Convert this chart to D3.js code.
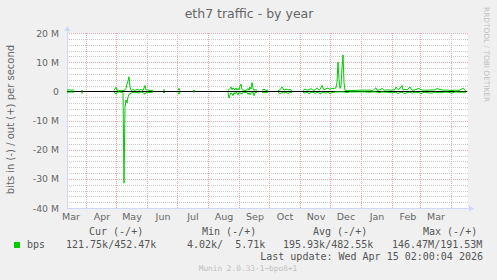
<!DOCTYPE html>
<html>
<head>
<meta charset="utf-8">
<script src="https://cdn.jsdelivr.net/npm/d3@7"></script>
<style>
  body { margin: 0; background: #f0f0f0; }
  svg { display: block; }
</style>
</head>
<body>
<div id="chart"></div>
<script>
const width = 497
const height = 280
const plot = { left: 67, right: 467, top: 33, bottom: 208 }

// sample dates (daily rrd values); null marks a gap
const sampleDates = [
  "2025-03-13","2025-03-15","2025-03-17","2025-03-19","2025-03-20","2025-03-24",
  "2025-03-27","2025-03-29","2025-04-10",
  "2025-04-29","2025-05-01","2025-05-02","2025-05-04","2025-05-06","2025-05-08","2025-05-09",
  "2025-05-10","2025-05-11","2025-05-12","2025-05-13","2025-05-14","2025-05-15","2025-05-16",
  "2025-05-18","2025-05-20","2025-05-22","2025-05-24","2025-05-26","2025-05-28","2025-05-30",
  "2025-05-31","2025-06-02","2025-06-04","2025-06-06","2025-06-07","2025-06-12",
  "2025-06-17","2025-06-19","2025-06-25",
  "2025-07-02","2025-07-03","2025-07-04","2025-07-10",
  "2025-07-17","2025-07-19","2025-08-05",
  "2025-08-21","2025-08-22","2025-08-23","2025-08-24","2025-08-25","2025-08-26","2025-08-27",
  "2025-08-28","2025-08-29","2025-08-30","2025-08-31","2025-09-01","2025-09-02","2025-09-03",
  "2025-09-04","2025-09-05","2025-09-07","2025-09-09","2025-09-10","2025-09-11","2025-09-12",
  "2025-09-13","2025-09-14","2025-09-15","2025-09-16","2025-09-17","2025-09-19","2025-09-21",
  "2025-09-24","2025-09-26","2025-09-28","2025-09-30","2025-10-05",
  "2025-10-10","2025-10-12","2025-10-14","2025-10-16","2025-10-18","2025-10-20","2025-10-22",
  "2025-10-24","2025-10-29",
  "2025-11-04","2025-11-06","2025-11-08","2025-11-10","2025-11-12","2025-11-14","2025-11-16",
  "2025-11-18","2025-11-20","2025-11-21","2025-11-23","2025-11-25","2025-11-27","2025-11-29",
  "2025-12-01","2025-12-03","2025-12-05","2025-12-07","2025-12-08","2025-12-09","2025-12-10",
  "2025-12-11","2025-12-12","2025-12-13","2025-12-14","2025-12-15","2025-12-16","2025-12-18",
  "2025-12-21","2025-12-26","2025-12-31","2026-01-05","2026-01-10","2026-01-13","2026-01-15",
  "2026-01-16","2026-01-17","2026-01-20","2026-01-22","2026-01-24","2026-01-28","2026-02-01",
  "2026-02-04","2026-02-05","2026-02-07","2026-02-09","2026-02-11","2026-02-12","2026-02-14",
  "2026-02-16","2026-02-19","2026-02-21","2026-02-24","2026-02-28","2026-03-02","2026-03-05",
  "2026-03-09","2026-03-13","2026-03-16","2026-03-18","2026-03-21","2026-03-25","2026-03-29",
  "2026-04-02","2026-04-05","2026-04-09","2026-04-13","2026-04-15","2026-04-16"
]
// received bits per second, Mbit/s (drawn below zero)
const bpsIn = [
  0.2,0.3,0.2,0.3,0.2,null,
  0.6,0.5,null,
  0.2,1.0,0.3,0.2,0.3,0.5,31.5,
  5.4,3.0,4.0,2.0,1.0,0.8,0.6,
  0.4,0.5,0.3,0.6,0.2,0.4,1.0,
  0.4,0.3,0.5,0.3,0.2,null,
  0.4,0.4,null,
  0.3,1.0,0.2,null,
  0.2,0.2,null,
  0.3,2.3,1.2,0.5,0.8,1.5,0.4,
  1.0,0.3,0.6,1.2,0.3,0.8,0.5,
  0.9,0.3,0.4,0.3,1.0,0.5,1.2,
  0.4,0.6,0.3,1.5,0.5,0.3,null,
  0.3,0.5,0.4,0.3,null,
  0.3,0.8,0.4,0.6,0.3,0.7,0.4,
  0.3,null,
  0.4,0.6,0.3,0.8,0.4,0.3,0.7,
  0.4,0.3,0.9,0.5,0.4,0.6,0.3,
  0.8,0.4,0.3,0.2,0.2,0.2,0.2,
  0.2,0.2,0.2,0.2,0.2,0.3,0.4,
  0.2,0.2,0.2,0.2,0.3,0.2,0.2,
  0.2,0.3,0.4,0.2,0.3,0.3,0.5,
  0.4,0.3,0.8,0.4,0.3,0.5,0.8,
  0.4,0.3,0.6,0.3,0.4,0.8,0.3,
  0.5,0.6,0.3,0.4,0.5,0.3,0.3,
  0.6,0.2,0.3,0.3,0.3,0.3
]
// sent bits per second, Mbit/s (drawn above zero)
const bpsOut = [
  0.4,0.5,0.4,0.5,0.4,null,
  0.2,0.2,null,
  0.3,1.4,0.3,0.4,0.2,0.3,0.2,
  0.5,1.0,2.5,3.5,5.0,1.5,0.3,
  0.6,0.3,0.7,0.4,0.6,0.3,2.0,
  0.5,0.5,0.2,0.4,0.3,null,
  0.4,0.5,null,
  0.3,1.0,0.3,null,
  0.3,0.3,null,
  0.3,0.5,1.0,1.5,0.6,1.2,0.8,
  0.5,1.2,0.4,1.0,0.5,1.8,2.5,
  0.6,0.4,0.3,0.5,1.0,0.4,1.5,
  0.8,3.0,1.2,0.3,0.6,0.4,null,
  0.4,0.7,0.3,0.5,null,
  0.3,0.5,1.5,0.4,0.8,0.5,0.6,
  0.3,null,
  0.3,0.8,0.4,0.6,0.9,0.4,0.5,
  1.2,0.5,0.6,2.0,0.5,0.9,1.1,
  0.7,1.0,1.0,1.2,3.0,10.0,4.0,
  1.0,2.0,8.0,12.5,3.0,0.4,0.2,
  0.3,0.3,0.4,0.4,0.4,0.3,1.0,
  1.2,0.4,0.5,1.0,0.4,0.5,0.4,
  0.6,1.5,0.6,1.0,2.0,0.5,0.7,
  0.5,1.5,0.4,0.5,1.0,0.5,0.4,
  0.4,0.5,0.5,1.0,0.6,0.4,0.4,
  0.3,0.4,0.3,1.0,0.4,0.3
]

const yTickValues = [20, 10, 0, -10, -20, -30, -40]
const yTickLabels = ["20 M", "10 M", "0", "-10 M", "-20 M", "-30 M", "-40 M"]
const monthLabels = ["Mar","Apr","May","Jun","Jul","Aug","Sep","Oct","Nov","Dec","Jan","Feb","Mar"]

const legendHeaders = ["Cur (-/+)", "Min (-/+)", "Avg (-/+)", "Max (-/+)"]
const legendValues = ["121.75k/452.47k", "4.02k/\u00a0\u00a05.71k", "195.93k/482.55k", "146.47M/191.53M"]

const parseDay = d3.timeParse("%Y-%m-%d")
const data = sampleDates.map((s, i) => ({ date: parseDay(s), rx: bpsIn[i], tx: bpsOut[i] }))

const svg = d3.select("#chart").append("svg")
    .attr("width", width)
    .attr("height", height)

svg.append("rect").attr("width", width).attr("height", height).attr("fill", "#f0f0f0")

let xScale = d3.scaleTime()
    .domain([new Date(2025, 2, 13), new Date(2026, 3, 17)])
    .range([plot.left, plot.right])

let yScale = d3.scaleLinear()
    .domain([-40, 20])
    .range([plot.bottom, plot.top])

// canvas
svg.append("rect")
    .attr("x", plot.left).attr("y", plot.top)
    .attr("width", plot.right - plot.left + 1).attr("height", plot.bottom - plot.top)
    .attr("fill", "#ffffff")

let grid = svg.append("g").attr("shape-rendering", "crispEdges")

// minor horizontal grid, every 2 M
grid.selectAll(".minor")
    .data(d3.range(-40, 21, 2).filter(v => v % 10 !== 0))
    .join("line")
    .attr("class", "minor")
    .attr("x1", plot.left).attr("x2", plot.right + 1)
    .attr("y1", d => Math.round(yScale(d)) + 0.5).attr("y2", d => Math.round(yScale(d)) + 0.5)
    .attr("stroke", "#cccccc")
    .attr("stroke-dasharray", "1,1")

// major horizontal grid
grid.selectAll(".major")
    .data(yTickValues)
    .join("line")
    .attr("class", "major")
    .attr("x1", plot.left).attr("x2", plot.right + 1)
    .attr("y1", d => Math.round(yScale(d)) + 0.5).attr("y2", d => Math.round(yScale(d)) + 0.5)
    .attr("stroke", "#f4a6a6")
    .attr("stroke-dasharray", "1,1")

// month grid
let monthStarts = d3.timeMonth.range(new Date(2025, 3, 1), new Date(2026, 4, 1))
grid.selectAll(".vmajor")
    .data(monthStarts)
    .join("line")
    .attr("class", "vmajor")
    .attr("x1", d => Math.round(xScale(d)) + 0.5).attr("x2", d => Math.round(xScale(d)) + 0.5)
    .attr("y1", plot.top).attr("y2", plot.bottom)
    .attr("stroke", "#f4a6a6")
    .attr("stroke-dasharray", "1,1")

// axes (rrd style, with arrows)
let axisColor = "#cfd6f8"
svg.append("line")
    .attr("x1", plot.left + 0.5).attr("x2", plot.left + 0.5)
    .attr("y1", plot.bottom).attr("y2", plot.top - 3)
    .attr("stroke", axisColor)
svg.append("path")
    .attr("d", `M${plot.left - 2.5},${plot.top - 2} L${plot.left + 0.5},${plot.top - 7} L${plot.left + 3.5},${plot.top - 2} Z`)
    .attr("fill", axisColor)
svg.append("line")
    .attr("x1", plot.left).attr("x2", plot.right + 3)
    .attr("y1", plot.bottom + 0.5).attr("y2", plot.bottom + 0.5)
    .attr("stroke", axisColor)
svg.append("path")
    .attr("d", `M${plot.right + 2},${plot.bottom - 2.5} L${plot.right + 7},${plot.bottom + 0.5} L${plot.right + 2},${plot.bottom + 3.5} Z`)
    .attr("fill", axisColor)

// zero line
svg.append("line")
    .attr("x1", plot.left).attr("x2", plot.right)
    .attr("y1", Math.round(yScale(0)) + 0.5).attr("y2", Math.round(yScale(0)) + 0.5)
    .attr("stroke", "#000000")
    .attr("shape-rendering", "crispEdges")

// traffic lines
let lineOut = d3.line()
    .defined(d => d.tx != null)
    .x(d => xScale(d.date))
    .y(d => yScale(d.tx))
let lineIn = d3.line()
    .defined(d => d.rx != null)
    .x(d => xScale(d.date))
    .y(d => yScale(-d.rx))

svg.append("path").datum(data)
    .attr("d", lineIn)
    .attr("fill", "none")
    .attr("stroke", "#00cc00")
    .attr("stroke-width", 1)
svg.append("path").datum(data)
    .attr("d", lineOut)
    .attr("fill", "none")
    .attr("stroke", "#00cc00")
    .attr("stroke-width", 1)

let fontColor = "#666666"

// y tick labels
svg.append("g").selectAll("text")
    .data(yTickValues)
    .join("text")
    .attr("x", plot.left - 8)
    .attr("y", d => yScale(d) + 3.5)
    .attr("text-anchor", "end")
    .attr("font-family", "DejaVu Sans")
    .attr("font-size", "9.3px")
    .attr("fill", fontColor)
    .text((d, i) => yTickLabels[i])

// month labels
let labelMonths = d3.timeMonth.range(new Date(2025, 2, 1), new Date(2026, 3, 1))
svg.append("g").selectAll("text")
    .data(labelMonths)
    .join("text")
    .attr("x", d => xScale(d3.timeDay.offset(d, 16)))
    .attr("y", plot.bottom + 12)
    .attr("text-anchor", "middle")
    .attr("font-family", "DejaVu Sans")
    .attr("font-size", "9.5px")
    .attr("fill", fontColor)
    .text((d, i) => monthLabels[i])

// title
svg.append("text")
    .attr("x", 249).attr("y", 18)
    .attr("text-anchor", "middle")
    .attr("font-family", "DejaVu Sans")
    .attr("font-size", "12.5px")
    .attr("fill", fontColor)
    .text("eth7 traffic - by year")

// vertical label
svg.append("text")
    .attr("transform", `translate(14, ${(plot.top + plot.bottom) / 2 - 1}) rotate(-90)`)
    .attr("text-anchor", "middle")
    .attr("font-family", "DejaVu Sans")
    .attr("font-size", "10px")
    .attr("fill", fontColor)
    .text("bits in (-) / out (+) per second")

// watermark
svg.append("text")
    .attr("transform", "translate(484, 7) rotate(90)")
    .attr("text-anchor", "start")
    .attr("font-family", "DejaVu Sans")
    .attr("font-size", "7.4px")
    .attr("fill", "#c0c0c0")
    .text("RRDTOOL / TOBI OETIKER")

// legend
let legend = svg.append("g")
    .attr("font-family", "DejaVu Sans Mono")
    .attr("font-size", "10px")
    .attr("fill", "#555555")

let headerX = [89, 202, 313, 423]
let valueX = [66, 187, 283, 392]

legend.selectAll(".hdr")
    .data(legendHeaders)
    .join("text")
    .attr("class", "hdr")
    .attr("x", (d, i) => headerX[i])
    .attr("y", 235)
    .text(d => d)

legend.append("rect")
    .attr("x", 14).attr("y", 242)
    .attr("width", 6).attr("height", 6)
    .attr("fill", "#00cc00")
legend.append("text")
    .attr("x", 27).attr("y", 248)
    .text("bps")

legend.selectAll(".val")
    .data(legendValues)
    .join("text")
    .attr("class", "val")
    .attr("x", (d, i) => valueX[i])
    .attr("y", 248)
    .text(d => d)

legend.append("text")
    .attr("x", 483).attr("y", 260)
    .attr("text-anchor", "end")
    .text("Last update: Wed Apr 15 02:00:04 2026")

svg.append("text")
    .attr("x", 248).attr("y", 271)
    .attr("text-anchor", "middle")
    .attr("font-family", "DejaVu Sans Mono")
    .attr("font-size", "7.8px")
    .attr("fill", "#c0c0c0")
    .text("Munin 2.0.33-1~bpo8+1")
</script>
</body>
</html>
